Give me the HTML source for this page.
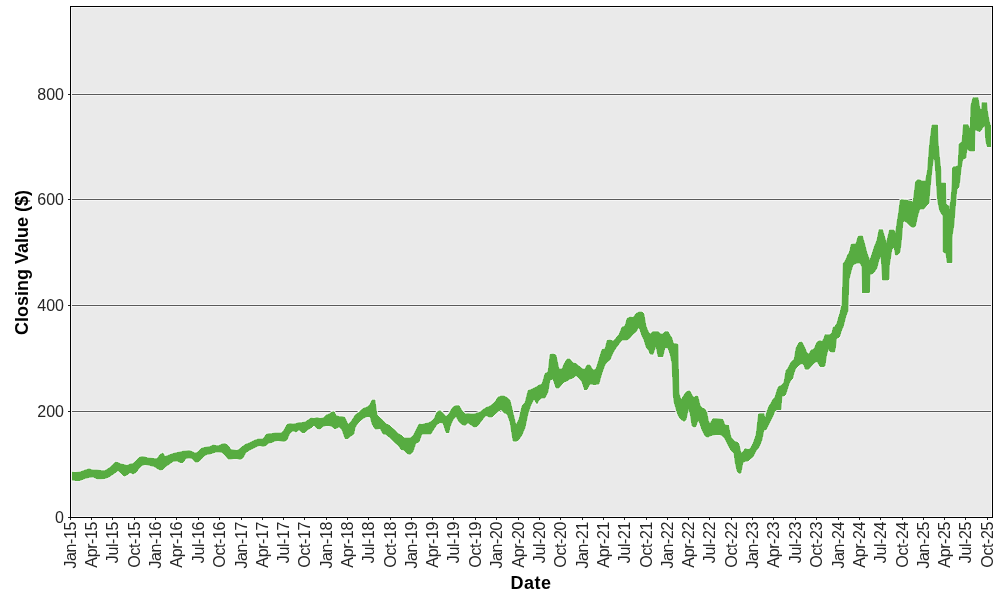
<!DOCTYPE html>
<html><head><meta charset="utf-8"><title>Chart</title>
<style>
html,body{margin:0;padding:0;background:#fff;}
body{width:1000px;height:600px;overflow:hidden;position:relative;font-family:"Liberation Sans",sans-serif;}
svg{position:absolute;left:0;top:0;display:block;opacity:0.999;will-change:transform;}
text{font-family:"Liberation Sans",sans-serif;fill:#262626;}
</style></head><body>
<svg width="1000" height="600" viewBox="0 0 1000 600">
<rect x="70" y="6" width="923" height="512" fill="#eaeaea"/>
<rect x="71" y="410.0" width="921" height="3" fill="#f6f6f6" shape-rendering="crispEdges"/>
<line x1="70" x2="993" y1="411.5" y2="411.5" stroke="#5a5a5a" stroke-width="1" shape-rendering="crispEdges"/>
<rect x="71" y="304.0" width="921" height="3" fill="#f6f6f6" shape-rendering="crispEdges"/>
<line x1="70" x2="993" y1="305.5" y2="305.5" stroke="#5a5a5a" stroke-width="1" shape-rendering="crispEdges"/>
<rect x="71" y="198.0" width="921" height="3" fill="#f6f6f6" shape-rendering="crispEdges"/>
<line x1="70" x2="993" y1="199.5" y2="199.5" stroke="#5a5a5a" stroke-width="1" shape-rendering="crispEdges"/>
<rect x="71" y="93.0" width="921" height="3" fill="#f6f6f6" shape-rendering="crispEdges"/>
<line x1="70" x2="993" y1="94.5" y2="94.5" stroke="#5a5a5a" stroke-width="1" shape-rendering="crispEdges"/>
<clipPath id="c"><rect x="71" y="7" width="921" height="510"/></clipPath>
<polygon clip-path="url(#c)" points="71.0,472.0 75.0,472.5 80.0,472.0 85.0,470.0 89.0,468.8 93.0,470.0 97.0,470.0 101.0,470.5 105.0,470.5 109.0,468.0 112.0,465.5 115.0,462.2 118.0,462.5 121.0,464.0 124.0,464.5 127.0,465.5 130.0,464.0 133.0,463.5 136.0,461.0 139.0,457.5 142.0,456.5 145.0,457.0 148.0,458.0 151.0,458.2 154.0,458.5 157.0,458.5 160.0,454.5 163.0,453.0 165.0,456.5 169.0,455.0 173.0,453.5 177.0,452.5 180.0,452.0 183.0,451.2 186.0,451.0 189.0,450.5 192.0,451.5 195.0,453.0 198.0,452.0 201.0,448.5 204.0,447.5 207.0,447.0 210.0,446.5 213.0,445.0 216.0,445.5 219.0,445.5 222.0,444.0 225.0,443.5 228.0,445.5 231.0,449.5 234.0,450.0 237.0,450.5 240.0,448.5 243.0,446.0 246.0,444.0 249.0,443.0 252.0,441.5 255.0,440.0 258.0,439.0 260.0,439.0 263.0,439.0 266.0,434.5 269.0,433.5 272.0,433.5 275.0,433.0 278.0,433.0 281.0,433.0 284.0,430.0 287.0,424.5 290.0,423.5 293.0,424.0 296.0,423.5 299.0,422.5 302.0,422.5 305.0,422.0 308.0,420.0 311.0,418.0 314.0,418.5 317.0,417.5 320.0,418.5 323.0,418.0 326.0,415.0 329.0,414.0 332.0,412.0 334.0,411.5 336.0,415.5 339.0,416.5 342.0,416.5 345.0,417.5 348.0,424.5 351.0,421.5 354.0,417.0 355.0,415.0 358.0,413.0 361.0,410.0 364.0,408.0 367.0,407.0 370.0,404.5 372.0,400.0 375.0,400.0 377.0,415.0 380.0,418.0 383.0,420.5 386.0,424.0 389.0,425.0 392.0,428.0 395.0,430.0 398.0,433.5 401.0,435.0 404.0,438.0 407.0,438.0 410.0,438.0 413.0,436.0 416.0,430.0 419.0,424.0 422.0,424.5 425.0,423.5 428.0,423.0 431.0,421.5 434.0,419.0 437.0,412.0 440.0,410.5 443.0,413.0 446.0,416.5 449.0,414.0 450.0,411.5 453.0,407.0 456.0,405.5 459.0,405.5 462.0,410.5 465.0,414.0 468.0,413.5 471.0,414.0 474.0,414.0 477.0,413.0 480.0,412.0 483.0,409.5 486.0,407.5 489.0,406.5 492.0,404.5 495.0,402.0 498.0,397.0 501.0,396.0 504.0,396.0 507.0,397.5 510.0,400.0 513.0,412.5 516.0,425.0 519.0,419.0 522.0,406.0 525.0,402.5 528.0,390.5 531.0,389.5 534.0,388.0 537.0,386.5 539.0,385.0 542.0,384.0 545.0,373.5 548.0,372.0 550.0,354.5 553.0,354.0 556.0,355.0 559.0,369.0 562.0,369.0 564.0,364.0 567.0,359.0 570.0,359.0 573.0,363.0 576.0,363.5 579.0,366.0 582.0,368.5 584.5,369.5 587.0,365.0 590.0,365.0 593.0,370.0 596.0,369.0 599.0,359.0 602.0,349.5 605.0,349.0 607.0,340.5 610.0,340.0 613.0,341.0 616.0,338.0 619.0,334.5 622.0,327.0 625.0,326.0 627.0,318.5 630.0,317.0 633.0,317.5 636.0,313.5 639.0,312.0 642.0,312.0 644.0,314.0 646.0,326.0 649.0,333.0 650.0,334.0 653.0,331.5 656.0,331.5 658.0,331.5 661.0,334.0 663.0,334.0 665.0,331.5 668.0,331.5 670.0,335.0 672.0,338.0 673.2,343.0 674.0,343.5 676.0,343.5 678.0,344.5 679.0,393.0 681.0,400.0 684.0,395.0 686.0,392.0 688.5,391.0 690.0,391.0 692.0,395.0 694.0,397.5 696.0,396.0 698.0,396.5 700.0,405.0 702.0,408.0 705.0,409.0 707.0,413.0 708.5,421.0 710.0,423.5 713.0,418.5 716.0,418.5 720.0,419.0 723.0,419.5 725.0,425.0 728.5,425.5 731.0,437.0 734.0,440.5 735.0,441.5 737.0,442.0 739.0,444.0 741.0,453.0 743.0,452.0 745.0,448.5 748.0,449.5 750.0,449.0 753.0,443.5 756.0,435.0 758.5,414.0 760.0,413.5 762.0,413.5 764.0,413.5 765.0,419.0 766.0,415.0 767.0,411.0 769.0,406.0 771.0,403.0 773.0,399.0 775.0,397.0 777.0,390.0 778.5,386.5 781.0,385.5 782.0,385.0 784.0,382.0 786.0,370.0 787.5,369.0 789.0,366.0 791.0,362.0 793.0,360.0 794.0,360.0 796.0,348.0 799.0,342.5 802.0,342.0 804.0,346.0 805.0,348.0 807.0,353.0 809.0,354.0 811.0,350.0 814.0,349.0 817.0,342.0 820.0,340.5 822.0,341.5 824.0,338.0 825.0,334.5 826.5,334.5 827.5,334.5 828.5,334.5 830.0,334.5 832.0,333.0 833.0,327.5 834.5,326.5 835.5,325.5 836.5,324.0 837.0,323.0 838.5,317.5 840.0,313.0 841.0,308.0 842.0,305.0 843.2,263.5 845.0,261.0 846.0,259.0 848.0,254.0 849.0,253.0 850.0,250.0 851.0,244.5 853.0,244.0 855.0,244.0 856.0,243.5 858.0,236.5 860.0,236.0 862.0,236.0 862.5,236.0 865.0,245.0 867.0,253.0 869.5,259.5 870.0,260.0 872.0,254.0 874.5,246.0 877.0,240.0 879.0,229.5 881.0,229.5 882.5,229.5 885.0,238.0 886.5,243.0 888.0,236.0 889.0,232.0 889.5,230.0 892.0,230.0 894.0,230.0 895.5,233.0 897.0,222.0 898.5,213.0 900.0,201.0 901.0,199.5 902.0,199.5 903.0,199.5 904.0,200.0 906.0,200.0 910.0,201.0 913.0,202.0 914.5,190.0 915.5,182.0 916.0,181.0 918.0,179.5 920.0,180.0 922.0,181.0 924.0,181.0 925.5,181.0 926.0,178.0 927.0,173.0 927.5,170.0 929.0,150.0 930.0,140.0 931.0,132.0 932.0,125.0 933.0,125.0 934.0,125.0 935.0,125.0 936.0,125.0 937.0,125.0 937.5,125.0 938.0,140.0 939.5,157.0 940.9,170.0 941.0,183.0 943.0,183.0 943.1,183.0 945.0,183.0 945.5,183.0 946.0,204.0 947.0,205.0 949.0,206.0 949.1,212.0 950.0,205.0 951.0,199.0 952.0,185.0 952.1,183.0 952.5,168.0 953.0,167.0 954.0,166.5 955.0,166.5 956.0,166.5 957.0,166.0 958.0,166.0 959.0,144.0 960.0,143.0 961.0,142.5 962.0,142.0 963.0,129.0 963.5,124.5 966.0,124.5 967.0,124.5 968.0,124.5 970.0,129.0 970.4,130.0 970.6,108.0 971.0,105.0 973.0,97.5 974.5,97.5 975.0,97.5 978.0,97.5 979.0,103.0 980.0,109.0 981.6,109.5 982.0,102.5 984.0,102.5 985.0,102.5 985.6,102.5 986.7,102.5 987.3,110.0 989.0,120.0 990.2,125.0 992.0,127.3 992.0,146.5 990.2,146.5 989.0,146.5 987.3,146.5 986.7,145.0 985.6,140.0 985.0,127.0 984.0,126.0 982.0,129.0 981.6,130.0 980.0,131.5 979.0,131.5 978.0,131.0 975.0,130.0 974.5,151.0 973.0,151.0 971.0,151.0 970.6,151.0 970.4,151.0 970.0,151.0 968.0,150.0 967.0,149.0 966.0,158.0 963.5,159.0 963.0,159.0 962.0,164.0 961.0,170.0 960.0,180.0 959.0,187.0 958.0,188.0 957.0,189.0 956.0,200.0 955.0,212.0 954.0,225.0 953.0,231.0 952.5,234.0 952.1,238.0 952.0,262.5 951.0,262.5 950.0,262.5 949.1,262.5 949.0,262.5 947.0,262.5 946.0,254.0 945.5,253.0 945.0,253.0 943.1,252.0 943.0,216.0 941.0,213.0 940.9,213.0 939.5,210.0 938.0,203.0 937.5,199.0 937.0,194.0 936.0,178.0 935.0,163.0 934.0,157.0 933.0,162.0 932.0,170.0 931.0,180.0 930.0,190.0 929.0,203.0 927.5,204.5 927.0,205.0 926.0,206.0 925.5,207.0 924.0,209.0 922.0,209.0 920.0,209.0 918.0,215.0 916.0,224.0 915.5,226.0 914.5,227.0 913.0,227.5 910.0,226.0 906.0,222.0 904.0,221.0 903.0,222.0 902.0,235.0 901.0,245.0 900.0,252.0 898.5,254.0 897.0,255.0 895.5,255.0 894.0,247.0 892.0,249.0 889.5,265.0 889.0,279.0 888.0,280.0 886.5,280.0 885.0,280.0 882.5,280.0 881.0,256.0 879.0,260.0 877.0,268.0 874.5,272.0 872.0,274.0 870.0,274.5 869.5,292.5 867.0,292.5 865.0,292.5 862.5,292.5 862.0,267.0 860.0,263.0 858.0,263.0 856.0,263.5 855.0,264.0 853.0,265.0 851.0,272.0 850.0,276.0 849.0,280.0 848.0,311.0 846.0,316.0 845.0,320.0 843.2,327.0 842.0,329.5 841.0,332.0 840.0,336.0 838.5,337.5 837.0,338.0 836.5,339.0 835.5,348.0 834.5,352.0 833.0,352.0 832.0,352.0 830.0,351.5 828.5,349.0 827.5,352.0 826.5,356.0 825.0,366.0 824.0,366.5 822.0,366.5 820.0,366.5 817.0,361.5 814.0,363.0 811.0,366.5 809.0,369.0 807.0,369.5 805.0,369.0 804.0,365.0 802.0,363.5 799.0,365.0 796.0,368.0 794.0,373.0 793.0,378.0 791.0,380.0 789.0,384.0 787.5,389.0 786.0,394.0 784.0,396.0 782.0,396.0 781.0,409.5 778.5,409.5 777.0,409.5 775.0,411.0 773.0,416.0 771.0,420.0 769.0,424.0 767.0,428.0 766.0,430.0 765.0,429.5 764.0,430.0 762.0,440.0 760.0,445.0 758.5,448.0 756.0,451.0 753.0,457.0 750.0,459.0 748.0,461.0 745.0,461.5 743.0,462.5 741.0,473.0 739.0,473.5 737.0,471.0 735.0,462.0 734.0,453.0 731.0,450.5 728.5,446.0 725.0,439.0 723.0,436.5 720.0,434.5 716.0,434.5 713.0,435.0 710.0,436.0 708.5,437.0 707.0,437.0 705.0,436.0 702.0,430.0 700.0,424.0 698.0,420.0 696.0,426.5 694.0,427.0 692.0,426.0 690.0,413.0 688.5,409.0 686.0,420.0 684.0,421.5 681.0,419.5 679.0,417.0 678.0,415.0 676.0,409.0 674.0,402.0 673.2,395.0 672.0,363.5 670.0,354.0 668.0,348.0 665.0,347.5 663.0,356.5 661.0,356.5 658.0,356.5 656.0,346.0 653.0,354.5 650.0,354.0 649.0,351.0 646.0,347.0 644.0,340.0 642.0,336.0 639.0,327.0 636.0,332.0 633.0,334.0 630.0,338.0 627.0,340.0 625.0,340.0 622.0,340.0 619.0,344.0 616.0,348.0 613.0,353.0 610.0,360.0 607.0,362.0 605.0,365.0 602.0,373.0 599.0,384.0 596.0,384.5 593.0,384.5 590.0,384.0 587.0,389.5 584.5,389.5 582.0,382.0 579.0,378.0 576.0,375.5 573.0,378.0 570.0,379.0 567.0,381.0 564.0,382.0 562.0,384.0 559.0,388.0 556.0,388.0 553.0,379.0 550.0,380.0 548.0,392.0 545.0,398.0 542.0,398.0 539.0,400.0 537.0,404.0 534.0,399.0 531.0,405.0 528.0,414.0 525.0,428.0 522.0,435.0 519.0,439.5 516.0,441.5 513.0,441.0 510.0,422.0 507.0,414.0 504.0,413.0 501.0,409.5 498.0,411.5 495.0,414.0 492.0,417.0 489.0,417.0 486.0,415.5 483.0,419.0 480.0,423.0 477.0,426.5 474.0,427.0 471.0,425.0 468.0,423.0 465.0,425.5 462.0,424.5 459.0,422.0 456.0,416.5 453.0,420.0 450.0,427.0 449.0,432.5 446.0,432.5 443.0,423.0 440.0,422.5 437.0,424.5 434.0,429.0 431.0,434.0 428.0,434.0 425.0,434.0 422.0,434.0 419.0,442.0 416.0,443.0 413.0,452.0 410.0,454.5 407.0,453.5 404.0,450.0 401.0,449.5 398.0,445.0 395.0,443.0 392.0,440.0 389.0,437.0 386.0,434.5 383.0,434.0 380.0,428.5 377.0,429.0 375.0,429.0 372.0,424.0 370.0,416.5 367.0,416.5 364.0,418.0 361.0,420.0 358.0,423.0 355.0,428.0 354.0,434.0 351.0,436.0 348.0,438.5 345.0,438.5 342.0,430.0 339.0,427.0 336.0,428.5 334.0,428.5 332.0,426.5 329.0,425.5 326.0,425.5 323.0,426.5 320.0,429.0 317.0,428.5 314.0,425.0 311.0,428.0 308.0,429.5 305.0,432.5 302.0,432.5 299.0,430.0 296.0,432.0 293.0,431.0 290.0,433.0 287.0,440.0 284.0,441.5 281.0,441.0 278.0,440.5 275.0,441.0 272.0,442.5 269.0,443.0 266.0,445.5 263.0,446.5 260.0,445.5 258.0,446.0 255.0,447.5 252.0,449.0 249.0,450.5 246.0,452.5 243.0,458.0 240.0,459.5 237.0,458.5 234.0,458.5 231.0,459.0 228.0,459.0 225.0,455.0 222.0,452.5 219.0,452.0 216.0,452.0 213.0,453.0 210.0,454.0 207.0,454.5 204.0,456.0 201.0,459.5 198.0,462.0 195.0,462.0 192.0,458.5 189.0,458.0 186.0,458.5 183.0,462.5 180.0,462.5 177.0,461.0 173.0,461.5 169.0,464.5 165.0,467.0 163.0,469.5 160.0,470.0 157.0,468.5 154.0,466.5 151.0,465.8 148.0,465.0 145.0,464.5 142.0,465.5 139.0,468.5 136.0,472.5 133.0,474.0 130.0,472.5 127.0,475.0 124.0,476.2 121.0,473.0 118.0,470.5 115.0,473.0 112.0,475.0 109.0,477.0 105.0,478.5 101.0,478.8 97.0,478.8 93.0,477.0 89.0,477.5 85.0,478.5 80.0,480.5 75.0,480.5 71.0,480.0" fill="none" stroke="#f4f4f4" stroke-width="2.6" stroke-linejoin="round"/>
<polygon clip-path="url(#c)" points="71.0,472.0 75.0,472.5 80.0,472.0 85.0,470.0 89.0,468.8 93.0,470.0 97.0,470.0 101.0,470.5 105.0,470.5 109.0,468.0 112.0,465.5 115.0,462.2 118.0,462.5 121.0,464.0 124.0,464.5 127.0,465.5 130.0,464.0 133.0,463.5 136.0,461.0 139.0,457.5 142.0,456.5 145.0,457.0 148.0,458.0 151.0,458.2 154.0,458.5 157.0,458.5 160.0,454.5 163.0,453.0 165.0,456.5 169.0,455.0 173.0,453.5 177.0,452.5 180.0,452.0 183.0,451.2 186.0,451.0 189.0,450.5 192.0,451.5 195.0,453.0 198.0,452.0 201.0,448.5 204.0,447.5 207.0,447.0 210.0,446.5 213.0,445.0 216.0,445.5 219.0,445.5 222.0,444.0 225.0,443.5 228.0,445.5 231.0,449.5 234.0,450.0 237.0,450.5 240.0,448.5 243.0,446.0 246.0,444.0 249.0,443.0 252.0,441.5 255.0,440.0 258.0,439.0 260.0,439.0 263.0,439.0 266.0,434.5 269.0,433.5 272.0,433.5 275.0,433.0 278.0,433.0 281.0,433.0 284.0,430.0 287.0,424.5 290.0,423.5 293.0,424.0 296.0,423.5 299.0,422.5 302.0,422.5 305.0,422.0 308.0,420.0 311.0,418.0 314.0,418.5 317.0,417.5 320.0,418.5 323.0,418.0 326.0,415.0 329.0,414.0 332.0,412.0 334.0,411.5 336.0,415.5 339.0,416.5 342.0,416.5 345.0,417.5 348.0,424.5 351.0,421.5 354.0,417.0 355.0,415.0 358.0,413.0 361.0,410.0 364.0,408.0 367.0,407.0 370.0,404.5 372.0,400.0 375.0,400.0 377.0,415.0 380.0,418.0 383.0,420.5 386.0,424.0 389.0,425.0 392.0,428.0 395.0,430.0 398.0,433.5 401.0,435.0 404.0,438.0 407.0,438.0 410.0,438.0 413.0,436.0 416.0,430.0 419.0,424.0 422.0,424.5 425.0,423.5 428.0,423.0 431.0,421.5 434.0,419.0 437.0,412.0 440.0,410.5 443.0,413.0 446.0,416.5 449.0,414.0 450.0,411.5 453.0,407.0 456.0,405.5 459.0,405.5 462.0,410.5 465.0,414.0 468.0,413.5 471.0,414.0 474.0,414.0 477.0,413.0 480.0,412.0 483.0,409.5 486.0,407.5 489.0,406.5 492.0,404.5 495.0,402.0 498.0,397.0 501.0,396.0 504.0,396.0 507.0,397.5 510.0,400.0 513.0,412.5 516.0,425.0 519.0,419.0 522.0,406.0 525.0,402.5 528.0,390.5 531.0,389.5 534.0,388.0 537.0,386.5 539.0,385.0 542.0,384.0 545.0,373.5 548.0,372.0 550.0,354.5 553.0,354.0 556.0,355.0 559.0,369.0 562.0,369.0 564.0,364.0 567.0,359.0 570.0,359.0 573.0,363.0 576.0,363.5 579.0,366.0 582.0,368.5 584.5,369.5 587.0,365.0 590.0,365.0 593.0,370.0 596.0,369.0 599.0,359.0 602.0,349.5 605.0,349.0 607.0,340.5 610.0,340.0 613.0,341.0 616.0,338.0 619.0,334.5 622.0,327.0 625.0,326.0 627.0,318.5 630.0,317.0 633.0,317.5 636.0,313.5 639.0,312.0 642.0,312.0 644.0,314.0 646.0,326.0 649.0,333.0 650.0,334.0 653.0,331.5 656.0,331.5 658.0,331.5 661.0,334.0 663.0,334.0 665.0,331.5 668.0,331.5 670.0,335.0 672.0,338.0 673.2,343.0 674.0,343.5 676.0,343.5 678.0,344.5 679.0,393.0 681.0,400.0 684.0,395.0 686.0,392.0 688.5,391.0 690.0,391.0 692.0,395.0 694.0,397.5 696.0,396.0 698.0,396.5 700.0,405.0 702.0,408.0 705.0,409.0 707.0,413.0 708.5,421.0 710.0,423.5 713.0,418.5 716.0,418.5 720.0,419.0 723.0,419.5 725.0,425.0 728.5,425.5 731.0,437.0 734.0,440.5 735.0,441.5 737.0,442.0 739.0,444.0 741.0,453.0 743.0,452.0 745.0,448.5 748.0,449.5 750.0,449.0 753.0,443.5 756.0,435.0 758.5,414.0 760.0,413.5 762.0,413.5 764.0,413.5 765.0,419.0 766.0,415.0 767.0,411.0 769.0,406.0 771.0,403.0 773.0,399.0 775.0,397.0 777.0,390.0 778.5,386.5 781.0,385.5 782.0,385.0 784.0,382.0 786.0,370.0 787.5,369.0 789.0,366.0 791.0,362.0 793.0,360.0 794.0,360.0 796.0,348.0 799.0,342.5 802.0,342.0 804.0,346.0 805.0,348.0 807.0,353.0 809.0,354.0 811.0,350.0 814.0,349.0 817.0,342.0 820.0,340.5 822.0,341.5 824.0,338.0 825.0,334.5 826.5,334.5 827.5,334.5 828.5,334.5 830.0,334.5 832.0,333.0 833.0,327.5 834.5,326.5 835.5,325.5 836.5,324.0 837.0,323.0 838.5,317.5 840.0,313.0 841.0,308.0 842.0,305.0 843.2,263.5 845.0,261.0 846.0,259.0 848.0,254.0 849.0,253.0 850.0,250.0 851.0,244.5 853.0,244.0 855.0,244.0 856.0,243.5 858.0,236.5 860.0,236.0 862.0,236.0 862.5,236.0 865.0,245.0 867.0,253.0 869.5,259.5 870.0,260.0 872.0,254.0 874.5,246.0 877.0,240.0 879.0,229.5 881.0,229.5 882.5,229.5 885.0,238.0 886.5,243.0 888.0,236.0 889.0,232.0 889.5,230.0 892.0,230.0 894.0,230.0 895.5,233.0 897.0,222.0 898.5,213.0 900.0,201.0 901.0,199.5 902.0,199.5 903.0,199.5 904.0,200.0 906.0,200.0 910.0,201.0 913.0,202.0 914.5,190.0 915.5,182.0 916.0,181.0 918.0,179.5 920.0,180.0 922.0,181.0 924.0,181.0 925.5,181.0 926.0,178.0 927.0,173.0 927.5,170.0 929.0,150.0 930.0,140.0 931.0,132.0 932.0,125.0 933.0,125.0 934.0,125.0 935.0,125.0 936.0,125.0 937.0,125.0 937.5,125.0 938.0,140.0 939.5,157.0 940.9,170.0 941.0,183.0 943.0,183.0 943.1,183.0 945.0,183.0 945.5,183.0 946.0,204.0 947.0,205.0 949.0,206.0 949.1,212.0 950.0,205.0 951.0,199.0 952.0,185.0 952.1,183.0 952.5,168.0 953.0,167.0 954.0,166.5 955.0,166.5 956.0,166.5 957.0,166.0 958.0,166.0 959.0,144.0 960.0,143.0 961.0,142.5 962.0,142.0 963.0,129.0 963.5,124.5 966.0,124.5 967.0,124.5 968.0,124.5 970.0,129.0 970.4,130.0 970.6,108.0 971.0,105.0 973.0,97.5 974.5,97.5 975.0,97.5 978.0,97.5 979.0,103.0 980.0,109.0 981.6,109.5 982.0,102.5 984.0,102.5 985.0,102.5 985.6,102.5 986.7,102.5 987.3,110.0 989.0,120.0 990.2,125.0 992.0,127.3 992.0,146.5 990.2,146.5 989.0,146.5 987.3,146.5 986.7,145.0 985.6,140.0 985.0,127.0 984.0,126.0 982.0,129.0 981.6,130.0 980.0,131.5 979.0,131.5 978.0,131.0 975.0,130.0 974.5,151.0 973.0,151.0 971.0,151.0 970.6,151.0 970.4,151.0 970.0,151.0 968.0,150.0 967.0,149.0 966.0,158.0 963.5,159.0 963.0,159.0 962.0,164.0 961.0,170.0 960.0,180.0 959.0,187.0 958.0,188.0 957.0,189.0 956.0,200.0 955.0,212.0 954.0,225.0 953.0,231.0 952.5,234.0 952.1,238.0 952.0,262.5 951.0,262.5 950.0,262.5 949.1,262.5 949.0,262.5 947.0,262.5 946.0,254.0 945.5,253.0 945.0,253.0 943.1,252.0 943.0,216.0 941.0,213.0 940.9,213.0 939.5,210.0 938.0,203.0 937.5,199.0 937.0,194.0 936.0,178.0 935.0,163.0 934.0,157.0 933.0,162.0 932.0,170.0 931.0,180.0 930.0,190.0 929.0,203.0 927.5,204.5 927.0,205.0 926.0,206.0 925.5,207.0 924.0,209.0 922.0,209.0 920.0,209.0 918.0,215.0 916.0,224.0 915.5,226.0 914.5,227.0 913.0,227.5 910.0,226.0 906.0,222.0 904.0,221.0 903.0,222.0 902.0,235.0 901.0,245.0 900.0,252.0 898.5,254.0 897.0,255.0 895.5,255.0 894.0,247.0 892.0,249.0 889.5,265.0 889.0,279.0 888.0,280.0 886.5,280.0 885.0,280.0 882.5,280.0 881.0,256.0 879.0,260.0 877.0,268.0 874.5,272.0 872.0,274.0 870.0,274.5 869.5,292.5 867.0,292.5 865.0,292.5 862.5,292.5 862.0,267.0 860.0,263.0 858.0,263.0 856.0,263.5 855.0,264.0 853.0,265.0 851.0,272.0 850.0,276.0 849.0,280.0 848.0,311.0 846.0,316.0 845.0,320.0 843.2,327.0 842.0,329.5 841.0,332.0 840.0,336.0 838.5,337.5 837.0,338.0 836.5,339.0 835.5,348.0 834.5,352.0 833.0,352.0 832.0,352.0 830.0,351.5 828.5,349.0 827.5,352.0 826.5,356.0 825.0,366.0 824.0,366.5 822.0,366.5 820.0,366.5 817.0,361.5 814.0,363.0 811.0,366.5 809.0,369.0 807.0,369.5 805.0,369.0 804.0,365.0 802.0,363.5 799.0,365.0 796.0,368.0 794.0,373.0 793.0,378.0 791.0,380.0 789.0,384.0 787.5,389.0 786.0,394.0 784.0,396.0 782.0,396.0 781.0,409.5 778.5,409.5 777.0,409.5 775.0,411.0 773.0,416.0 771.0,420.0 769.0,424.0 767.0,428.0 766.0,430.0 765.0,429.5 764.0,430.0 762.0,440.0 760.0,445.0 758.5,448.0 756.0,451.0 753.0,457.0 750.0,459.0 748.0,461.0 745.0,461.5 743.0,462.5 741.0,473.0 739.0,473.5 737.0,471.0 735.0,462.0 734.0,453.0 731.0,450.5 728.5,446.0 725.0,439.0 723.0,436.5 720.0,434.5 716.0,434.5 713.0,435.0 710.0,436.0 708.5,437.0 707.0,437.0 705.0,436.0 702.0,430.0 700.0,424.0 698.0,420.0 696.0,426.5 694.0,427.0 692.0,426.0 690.0,413.0 688.5,409.0 686.0,420.0 684.0,421.5 681.0,419.5 679.0,417.0 678.0,415.0 676.0,409.0 674.0,402.0 673.2,395.0 672.0,363.5 670.0,354.0 668.0,348.0 665.0,347.5 663.0,356.5 661.0,356.5 658.0,356.5 656.0,346.0 653.0,354.5 650.0,354.0 649.0,351.0 646.0,347.0 644.0,340.0 642.0,336.0 639.0,327.0 636.0,332.0 633.0,334.0 630.0,338.0 627.0,340.0 625.0,340.0 622.0,340.0 619.0,344.0 616.0,348.0 613.0,353.0 610.0,360.0 607.0,362.0 605.0,365.0 602.0,373.0 599.0,384.0 596.0,384.5 593.0,384.5 590.0,384.0 587.0,389.5 584.5,389.5 582.0,382.0 579.0,378.0 576.0,375.5 573.0,378.0 570.0,379.0 567.0,381.0 564.0,382.0 562.0,384.0 559.0,388.0 556.0,388.0 553.0,379.0 550.0,380.0 548.0,392.0 545.0,398.0 542.0,398.0 539.0,400.0 537.0,404.0 534.0,399.0 531.0,405.0 528.0,414.0 525.0,428.0 522.0,435.0 519.0,439.5 516.0,441.5 513.0,441.0 510.0,422.0 507.0,414.0 504.0,413.0 501.0,409.5 498.0,411.5 495.0,414.0 492.0,417.0 489.0,417.0 486.0,415.5 483.0,419.0 480.0,423.0 477.0,426.5 474.0,427.0 471.0,425.0 468.0,423.0 465.0,425.5 462.0,424.5 459.0,422.0 456.0,416.5 453.0,420.0 450.0,427.0 449.0,432.5 446.0,432.5 443.0,423.0 440.0,422.5 437.0,424.5 434.0,429.0 431.0,434.0 428.0,434.0 425.0,434.0 422.0,434.0 419.0,442.0 416.0,443.0 413.0,452.0 410.0,454.5 407.0,453.5 404.0,450.0 401.0,449.5 398.0,445.0 395.0,443.0 392.0,440.0 389.0,437.0 386.0,434.5 383.0,434.0 380.0,428.5 377.0,429.0 375.0,429.0 372.0,424.0 370.0,416.5 367.0,416.5 364.0,418.0 361.0,420.0 358.0,423.0 355.0,428.0 354.0,434.0 351.0,436.0 348.0,438.5 345.0,438.5 342.0,430.0 339.0,427.0 336.0,428.5 334.0,428.5 332.0,426.5 329.0,425.5 326.0,425.5 323.0,426.5 320.0,429.0 317.0,428.5 314.0,425.0 311.0,428.0 308.0,429.5 305.0,432.5 302.0,432.5 299.0,430.0 296.0,432.0 293.0,431.0 290.0,433.0 287.0,440.0 284.0,441.5 281.0,441.0 278.0,440.5 275.0,441.0 272.0,442.5 269.0,443.0 266.0,445.5 263.0,446.5 260.0,445.5 258.0,446.0 255.0,447.5 252.0,449.0 249.0,450.5 246.0,452.5 243.0,458.0 240.0,459.5 237.0,458.5 234.0,458.5 231.0,459.0 228.0,459.0 225.0,455.0 222.0,452.5 219.0,452.0 216.0,452.0 213.0,453.0 210.0,454.0 207.0,454.5 204.0,456.0 201.0,459.5 198.0,462.0 195.0,462.0 192.0,458.5 189.0,458.0 186.0,458.5 183.0,462.5 180.0,462.5 177.0,461.0 173.0,461.5 169.0,464.5 165.0,467.0 163.0,469.5 160.0,470.0 157.0,468.5 154.0,466.5 151.0,465.8 148.0,465.0 145.0,464.5 142.0,465.5 139.0,468.5 136.0,472.5 133.0,474.0 130.0,472.5 127.0,475.0 124.0,476.2 121.0,473.0 118.0,470.5 115.0,473.0 112.0,475.0 109.0,477.0 105.0,478.5 101.0,478.8 97.0,478.8 93.0,477.0 89.0,477.5 85.0,478.5 80.0,480.5 75.0,480.5 71.0,480.0" fill="#57ac41" stroke="#57ac41" stroke-width="0.6" stroke-linejoin="round" shape-rendering="crispEdges"/>
<rect x="71.5" y="7.5" width="920" height="509" fill="none" stroke="#f8f8f8" stroke-width="1" shape-rendering="crispEdges"/>
<rect x="70.5" y="6.5" width="922" height="511" fill="none" stroke="#000" stroke-width="1" shape-rendering="crispEdges"/>
<line x1="68" x2="70" y1="517.5" y2="517.5" stroke="#222" stroke-width="1" shape-rendering="crispEdges"/>
<text x="64" y="522.8" font-size="16" text-anchor="end">0</text>
<line x1="68" x2="70" y1="411.5" y2="411.5" stroke="#222" stroke-width="1" shape-rendering="crispEdges"/>
<text x="64" y="416.8" font-size="16" text-anchor="end">200</text>
<line x1="68" x2="70" y1="305.5" y2="305.5" stroke="#222" stroke-width="1" shape-rendering="crispEdges"/>
<text x="64" y="310.8" font-size="16" text-anchor="end">400</text>
<line x1="68" x2="70" y1="199.5" y2="199.5" stroke="#222" stroke-width="1" shape-rendering="crispEdges"/>
<text x="64" y="204.8" font-size="16" text-anchor="end">600</text>
<line x1="68" x2="70" y1="94.5" y2="94.5" stroke="#222" stroke-width="1" shape-rendering="crispEdges"/>
<text x="64" y="99.8" font-size="16" text-anchor="end">800</text>
<line x1="70.5" x2="70.5" y1="518" y2="520" stroke="#222" stroke-width="1" shape-rendering="crispEdges"/>
<text transform="translate(76.4,522) rotate(-90)" font-size="16" letter-spacing="-0.4" text-anchor="end">Jan-15</text>
<line x1="91.5" x2="91.5" y1="518" y2="520" stroke="#222" stroke-width="1" shape-rendering="crispEdges"/>
<text transform="translate(97.4,522) rotate(-90)" font-size="16" letter-spacing="-0.4" text-anchor="end">Apr-15</text>
<line x1="112.5" x2="112.5" y1="518" y2="520" stroke="#222" stroke-width="1" shape-rendering="crispEdges"/>
<text transform="translate(118.4,522) rotate(-90)" font-size="16" letter-spacing="-0.4" text-anchor="end">Jul-15</text>
<line x1="134.5" x2="134.5" y1="518" y2="520" stroke="#222" stroke-width="1" shape-rendering="crispEdges"/>
<text transform="translate(140.4,522) rotate(-90)" font-size="16" letter-spacing="-0.4" text-anchor="end">Oct-15</text>
<line x1="155.5" x2="155.5" y1="518" y2="520" stroke="#222" stroke-width="1" shape-rendering="crispEdges"/>
<text transform="translate(161.4,522) rotate(-90)" font-size="16" letter-spacing="-0.4" text-anchor="end">Jan-16</text>
<line x1="176.5" x2="176.5" y1="518" y2="520" stroke="#222" stroke-width="1" shape-rendering="crispEdges"/>
<text transform="translate(182.4,522) rotate(-90)" font-size="16" letter-spacing="-0.4" text-anchor="end">Apr-16</text>
<line x1="198.5" x2="198.5" y1="518" y2="520" stroke="#222" stroke-width="1" shape-rendering="crispEdges"/>
<text transform="translate(204.4,522) rotate(-90)" font-size="16" letter-spacing="-0.4" text-anchor="end">Jul-16</text>
<line x1="219.5" x2="219.5" y1="518" y2="520" stroke="#222" stroke-width="1" shape-rendering="crispEdges"/>
<text transform="translate(225.4,522) rotate(-90)" font-size="16" letter-spacing="-0.4" text-anchor="end">Oct-16</text>
<line x1="241.5" x2="241.5" y1="518" y2="520" stroke="#222" stroke-width="1" shape-rendering="crispEdges"/>
<text transform="translate(247.4,522) rotate(-90)" font-size="16" letter-spacing="-0.4" text-anchor="end">Jan-17</text>
<line x1="262.5" x2="262.5" y1="518" y2="520" stroke="#222" stroke-width="1" shape-rendering="crispEdges"/>
<text transform="translate(268.4,522) rotate(-90)" font-size="16" letter-spacing="-0.4" text-anchor="end">Apr-17</text>
<line x1="283.5" x2="283.5" y1="518" y2="520" stroke="#222" stroke-width="1" shape-rendering="crispEdges"/>
<text transform="translate(289.4,522) rotate(-90)" font-size="16" letter-spacing="-0.4" text-anchor="end">Jul-17</text>
<line x1="304.5" x2="304.5" y1="518" y2="520" stroke="#222" stroke-width="1" shape-rendering="crispEdges"/>
<text transform="translate(310.4,522) rotate(-90)" font-size="16" letter-spacing="-0.4" text-anchor="end">Oct-17</text>
<line x1="326.5" x2="326.5" y1="518" y2="520" stroke="#222" stroke-width="1" shape-rendering="crispEdges"/>
<text transform="translate(332.4,522) rotate(-90)" font-size="16" letter-spacing="-0.4" text-anchor="end">Jan-18</text>
<line x1="347.5" x2="347.5" y1="518" y2="520" stroke="#222" stroke-width="1" shape-rendering="crispEdges"/>
<text transform="translate(353.4,522) rotate(-90)" font-size="16" letter-spacing="-0.4" text-anchor="end">Apr-18</text>
<line x1="368.5" x2="368.5" y1="518" y2="520" stroke="#222" stroke-width="1" shape-rendering="crispEdges"/>
<text transform="translate(374.4,522) rotate(-90)" font-size="16" letter-spacing="-0.4" text-anchor="end">Jul-18</text>
<line x1="390.5" x2="390.5" y1="518" y2="520" stroke="#222" stroke-width="1" shape-rendering="crispEdges"/>
<text transform="translate(396.4,522) rotate(-90)" font-size="16" letter-spacing="-0.4" text-anchor="end">Oct-18</text>
<line x1="411.5" x2="411.5" y1="518" y2="520" stroke="#222" stroke-width="1" shape-rendering="crispEdges"/>
<text transform="translate(417.4,522) rotate(-90)" font-size="16" letter-spacing="-0.4" text-anchor="end">Jan-19</text>
<line x1="432.5" x2="432.5" y1="518" y2="520" stroke="#222" stroke-width="1" shape-rendering="crispEdges"/>
<text transform="translate(438.4,522) rotate(-90)" font-size="16" letter-spacing="-0.4" text-anchor="end">Apr-19</text>
<line x1="453.5" x2="453.5" y1="518" y2="520" stroke="#222" stroke-width="1" shape-rendering="crispEdges"/>
<text transform="translate(459.4,522) rotate(-90)" font-size="16" letter-spacing="-0.4" text-anchor="end">Jul-19</text>
<line x1="475.5" x2="475.5" y1="518" y2="520" stroke="#222" stroke-width="1" shape-rendering="crispEdges"/>
<text transform="translate(481.4,522) rotate(-90)" font-size="16" letter-spacing="-0.4" text-anchor="end">Oct-19</text>
<line x1="496.5" x2="496.5" y1="518" y2="520" stroke="#222" stroke-width="1" shape-rendering="crispEdges"/>
<text transform="translate(502.4,522) rotate(-90)" font-size="16" letter-spacing="-0.4" text-anchor="end">Jan-20</text>
<line x1="518.5" x2="518.5" y1="518" y2="520" stroke="#222" stroke-width="1" shape-rendering="crispEdges"/>
<text transform="translate(524.4,522) rotate(-90)" font-size="16" letter-spacing="-0.4" text-anchor="end">Apr-20</text>
<line x1="539.5" x2="539.5" y1="518" y2="520" stroke="#222" stroke-width="1" shape-rendering="crispEdges"/>
<text transform="translate(545.4,522) rotate(-90)" font-size="16" letter-spacing="-0.4" text-anchor="end">Jul-20</text>
<line x1="560.5" x2="560.5" y1="518" y2="520" stroke="#222" stroke-width="1" shape-rendering="crispEdges"/>
<text transform="translate(566.4,522) rotate(-90)" font-size="16" letter-spacing="-0.4" text-anchor="end">Oct-20</text>
<line x1="582.5" x2="582.5" y1="518" y2="520" stroke="#222" stroke-width="1" shape-rendering="crispEdges"/>
<text transform="translate(588.4,522) rotate(-90)" font-size="16" letter-spacing="-0.4" text-anchor="end">Jan-21</text>
<line x1="603.5" x2="603.5" y1="518" y2="520" stroke="#222" stroke-width="1" shape-rendering="crispEdges"/>
<text transform="translate(609.4,522) rotate(-90)" font-size="16" letter-spacing="-0.4" text-anchor="end">Apr-21</text>
<line x1="624.5" x2="624.5" y1="518" y2="520" stroke="#222" stroke-width="1" shape-rendering="crispEdges"/>
<text transform="translate(630.4,522) rotate(-90)" font-size="16" letter-spacing="-0.4" text-anchor="end">Jul-21</text>
<line x1="646.5" x2="646.5" y1="518" y2="520" stroke="#222" stroke-width="1" shape-rendering="crispEdges"/>
<text transform="translate(652.4,522) rotate(-90)" font-size="16" letter-spacing="-0.4" text-anchor="end">Oct-21</text>
<line x1="667.5" x2="667.5" y1="518" y2="520" stroke="#222" stroke-width="1" shape-rendering="crispEdges"/>
<text transform="translate(673.4,522) rotate(-90)" font-size="16" letter-spacing="-0.4" text-anchor="end">Jan-22</text>
<line x1="688.5" x2="688.5" y1="518" y2="520" stroke="#222" stroke-width="1" shape-rendering="crispEdges"/>
<text transform="translate(694.4,522) rotate(-90)" font-size="16" letter-spacing="-0.4" text-anchor="end">Apr-22</text>
<line x1="709.5" x2="709.5" y1="518" y2="520" stroke="#222" stroke-width="1" shape-rendering="crispEdges"/>
<text transform="translate(715.4,522) rotate(-90)" font-size="16" letter-spacing="-0.4" text-anchor="end">Jul-22</text>
<line x1="731.5" x2="731.5" y1="518" y2="520" stroke="#222" stroke-width="1" shape-rendering="crispEdges"/>
<text transform="translate(737.4,522) rotate(-90)" font-size="16" letter-spacing="-0.4" text-anchor="end">Oct-22</text>
<line x1="752.5" x2="752.5" y1="518" y2="520" stroke="#222" stroke-width="1" shape-rendering="crispEdges"/>
<text transform="translate(758.4,522) rotate(-90)" font-size="16" letter-spacing="-0.4" text-anchor="end">Jan-23</text>
<line x1="773.5" x2="773.5" y1="518" y2="520" stroke="#222" stroke-width="1" shape-rendering="crispEdges"/>
<text transform="translate(779.4,522) rotate(-90)" font-size="16" letter-spacing="-0.4" text-anchor="end">Apr-23</text>
<line x1="795.5" x2="795.5" y1="518" y2="520" stroke="#222" stroke-width="1" shape-rendering="crispEdges"/>
<text transform="translate(801.4,522) rotate(-90)" font-size="16" letter-spacing="-0.4" text-anchor="end">Jul-23</text>
<line x1="816.5" x2="816.5" y1="518" y2="520" stroke="#222" stroke-width="1" shape-rendering="crispEdges"/>
<text transform="translate(822.4,522) rotate(-90)" font-size="16" letter-spacing="-0.4" text-anchor="end">Oct-23</text>
<line x1="838.5" x2="838.5" y1="518" y2="520" stroke="#222" stroke-width="1" shape-rendering="crispEdges"/>
<text transform="translate(844.4,522) rotate(-90)" font-size="16" letter-spacing="-0.4" text-anchor="end">Jan-24</text>
<line x1="859.5" x2="859.5" y1="518" y2="520" stroke="#222" stroke-width="1" shape-rendering="crispEdges"/>
<text transform="translate(865.4,522) rotate(-90)" font-size="16" letter-spacing="-0.4" text-anchor="end">Apr-24</text>
<line x1="880.5" x2="880.5" y1="518" y2="520" stroke="#222" stroke-width="1" shape-rendering="crispEdges"/>
<text transform="translate(886.4,522) rotate(-90)" font-size="16" letter-spacing="-0.4" text-anchor="end">Jul-24</text>
<line x1="902.5" x2="902.5" y1="518" y2="520" stroke="#222" stroke-width="1" shape-rendering="crispEdges"/>
<text transform="translate(908.4,522) rotate(-90)" font-size="16" letter-spacing="-0.4" text-anchor="end">Oct-24</text>
<line x1="923.5" x2="923.5" y1="518" y2="520" stroke="#222" stroke-width="1" shape-rendering="crispEdges"/>
<text transform="translate(929.4,522) rotate(-90)" font-size="16" letter-spacing="-0.4" text-anchor="end">Jan-25</text>
<line x1="944.5" x2="944.5" y1="518" y2="520" stroke="#222" stroke-width="1" shape-rendering="crispEdges"/>
<text transform="translate(950.4,522) rotate(-90)" font-size="16" letter-spacing="-0.4" text-anchor="end">Apr-25</text>
<line x1="965.5" x2="965.5" y1="518" y2="520" stroke="#222" stroke-width="1" shape-rendering="crispEdges"/>
<text transform="translate(971.4,522) rotate(-90)" font-size="16" letter-spacing="-0.4" text-anchor="end">Jul-25</text>
<line x1="987.5" x2="987.5" y1="518" y2="520" stroke="#222" stroke-width="1" shape-rendering="crispEdges"/>
<text transform="translate(993.4,522) rotate(-90)" font-size="16" letter-spacing="-0.4" text-anchor="end">Oct-25</text>
<text x="531" y="589" font-size="18" font-weight="bold" letter-spacing="0.5" text-anchor="middle" style="fill:#000">Date</text>
<text transform="translate(28.4,262.5) rotate(-90)" font-size="18" font-weight="bold" text-anchor="middle" style="fill:#000">Closing Value ($)</text>
</svg></body></html>
